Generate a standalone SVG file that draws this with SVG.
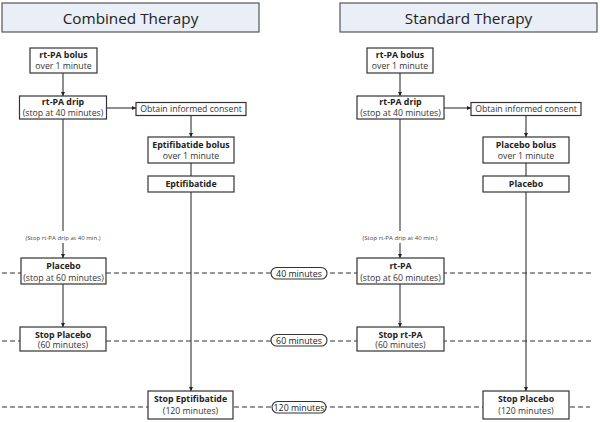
<svg xmlns="http://www.w3.org/2000/svg" width="600" height="422" viewBox="0 0 600 422">
<defs>
<style>
.title{fill:#e9eef7;stroke:#555;stroke-width:1.2}
.tt{font-family:"Open Sans","Liberation Sans",sans-serif;font-size:15.3px;fill:#222;text-anchor:middle}
.box{fill:#fff;stroke:#333;stroke-width:1.2}
.b{font-family:"Open Sans","Liberation Sans",sans-serif;font-size:8.8px;font-weight:bold;fill:#222;text-anchor:middle}
.n{font-family:"Open Sans","Liberation Sans",sans-serif;font-size:8.7px;fill:#333;text-anchor:middle}
.s{font-family:"Open Sans","Liberation Sans",sans-serif;font-size:6.1px;fill:#444;text-anchor:middle}
.pill{fill:#fff;stroke:#333;stroke-width:1.1}
.p{font-family:"Open Sans","Liberation Sans",sans-serif;font-size:8.8px;fill:#222;text-anchor:middle}
.dash{stroke:#333;stroke-width:1;stroke-dasharray:5 3;fill:none}
.line{stroke:#333;stroke-width:1.1;fill:none}
.arr{stroke:#333;stroke-width:1.1;fill:none;marker-end:url(#ah)}
</style>
<marker id="ah" viewBox="0 0 10 10" refX="10" refY="5" markerWidth="4" markerHeight="4" orient="auto" markerUnits="userSpaceOnUse">
<path d="M0,0 L10,5 L0,10 z" fill="#222"/>
</marker>
</defs>
<rect width="600" height="422" fill="#fff"/>

<g id="timeline">
<line class="dash" x1="2" y1="273" x2="594" y2="273"/>
<line class="dash" x1="2" y1="341" x2="594" y2="341"/>
<line class="dash" x1="2" y1="407" x2="590" y2="407"/>
</g>

<g id="connectors">
<line class="arr" x1="63" y1="73" x2="63" y2="96"/>
<line class="arr" x1="107" y1="108" x2="136" y2="108"/>
<line class="arr" x1="191" y1="115" x2="191" y2="137"/>
<line class="line" x1="191" y1="163" x2="191" y2="176"/>
<line class="arr" x1="191" y1="192" x2="191" y2="391"/>
<line class="line" x1="63" y1="119" x2="63" y2="231"/>
<line class="arr" x1="63" y1="243" x2="63" y2="258"/>
<line class="arr" x1="63" y1="284" x2="63" y2="327"/>

<line class="arr" x1="400" y1="73" x2="400" y2="96"/>
<line class="arr" x1="444" y1="108" x2="471" y2="108"/>
<line class="arr" x1="526" y1="115" x2="526" y2="137"/>
<line class="line" x1="526" y1="163" x2="526" y2="176"/>
<line class="arr" x1="526" y1="192" x2="526" y2="391"/>
<line class="line" x1="400" y1="119" x2="400" y2="231"/>
<line class="arr" x1="400" y1="243" x2="400" y2="258"/>
<line class="arr" x1="400" y1="284" x2="400" y2="327"/>
</g>

<g id="title-combined"><rect class="title" x="2" y="3" width="257" height="29"/><text class="tt" x="130.5" y="23.5">Combined Therapy</text></g>
<g id="title-standard"><rect class="title" x="340" y="3" width="257" height="29"/><text class="tt" x="468.5" y="23.5">Standard Therapy</text></g>

<g id="c-bolus"><rect class="box" x="30" y="48" width="67" height="25"/><text class="b" x="63.5" y="58">rt-PA bolus</text><text class="n" x="63.5" y="68.5">over 1 minute</text></g>
<g id="c-drip"><rect class="box" x="19.5" y="96" width="87" height="23"/><text class="b" x="63" y="105">rt-PA drip</text><text class="n" x="63" y="115.5">(stop at 40 minutes)</text></g>
<g id="c-consent"><rect class="box" x="136" y="102.5" width="110" height="13"/><text class="n" x="191" y="112">Obtain informed consent</text></g>
<g id="c-eptbolus"><rect class="box" x="148" y="137" width="86" height="26"/><text class="b" x="191" y="148">Eptifibatide bolus</text><text class="n" x="191" y="158.5">over 1 minute</text></g>
<g id="c-ept"><rect class="box" x="148" y="176" width="86" height="16"/><text class="b" x="191" y="187">Eptifibatide</text></g>
<g id="c-stopnote"><text class="s" x="63" y="240">(Stop rt-PA drip at 40 min.)</text></g>
<g id="c-placebo"><rect class="box" x="21" y="258" width="85" height="26"/><text class="b" x="63.5" y="269">Placebo</text><text class="n" x="63.5" y="280.5">(stop at 60 minutes)</text></g>
<g id="c-stopplacebo"><rect class="box" x="20" y="327" width="86" height="24"/><text class="b" x="63" y="337.5">Stop Placebo</text><text class="n" x="63" y="348">(60 minutes)</text></g>
<g id="c-stopept"><rect class="box" x="148" y="391" width="85" height="28"/><text class="b" x="190.5" y="402">Stop Eptifibatide</text><text class="n" x="190.5" y="414">(120 minutes)</text></g>

<g id="s-bolus"><rect class="box" x="367" y="48" width="66" height="25"/><text class="b" x="400" y="58">rt-PA bolus</text><text class="n" x="400" y="68.5">over 1 minute</text></g>
<g id="s-drip"><rect class="box" x="357" y="96" width="87" height="23"/><text class="b" x="400.5" y="105">rt-PA drip</text><text class="n" x="400.5" y="115.5">(stop at 40 minutes)</text></g>
<g id="s-consent"><rect class="box" x="471" y="102.5" width="110" height="13"/><text class="n" x="526" y="112">Obtain informed consent</text></g>
<g id="s-plbolus"><rect class="box" x="483" y="137" width="86" height="26"/><text class="b" x="526" y="148">Placebo bolus</text><text class="n" x="526" y="158.5">over 1 minute</text></g>
<g id="s-placebo"><rect class="box" x="483" y="176" width="86" height="16"/><text class="b" x="526" y="187">Placebo</text></g>
<g id="s-stopnote"><text class="s" x="400" y="240">(Stop rt-PA drip at 40 min.)</text></g>
<g id="s-rtpa"><rect class="box" x="357" y="258" width="87" height="26"/><text class="b" x="400.5" y="269">rt-PA</text><text class="n" x="400.5" y="280.5">(stop at 60 minutes)</text></g>
<g id="s-stoprtpa"><rect class="box" x="357" y="327" width="87" height="24"/><text class="b" x="400.5" y="337.5">Stop rt-PA</text><text class="n" x="400.5" y="348">(60 minutes)</text></g>
<g id="s-stopplacebo"><rect class="box" x="483" y="391" width="86" height="28"/><text class="b" x="526" y="402">Stop Placebo</text><text class="n" x="526" y="414">(120 minutes)</text></g>

<g id="t40"><rect class="pill" x="271" y="267.5" width="56" height="11.5" rx="5.75"/><text class="p" x="299" y="276.5">40 minutes</text></g>
<g id="t60"><rect class="pill" x="271" y="334.5" width="56" height="11.5" rx="5.75"/><text class="p" x="299" y="343.5">60 minutes</text></g>
<g id="t120"><rect class="pill" x="272" y="401.5" width="54" height="11.5" rx="5.75"/><text class="p" x="299" y="410.5">120 minutes</text></g>
</svg>
